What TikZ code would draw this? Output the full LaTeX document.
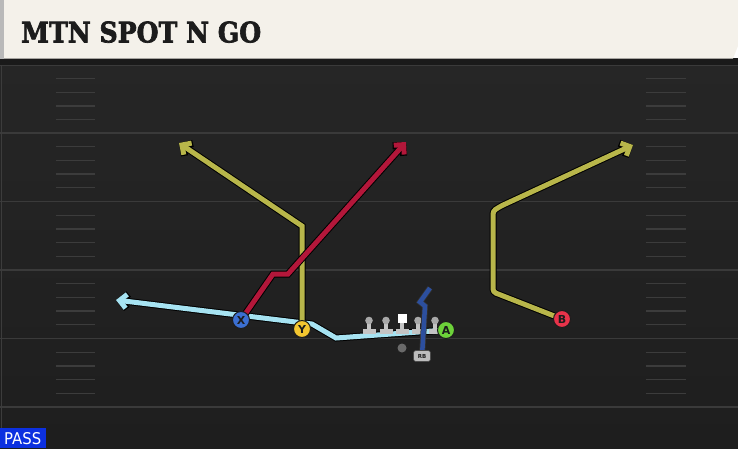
\documentclass[tikz,border=0pt]{standalone}
\usepackage{fontspec}
\usepackage{graphicx}
\usetikzlibrary{arrows.meta}
\newfontfamily\titlefont{DejaVu Serif}[BoldFeatures={FakeBold=2.5}]
\newfontfamily\labfont{DejaVu Sans}
\definecolor{fieldtop}{HTML}{262626}
\definecolor{fieldbot}{HTML}{1E1E1E}
\definecolor{yardc}{HTML}{3A3A3A}
\definecolor{hashc}{HTML}{3C3C3C}
\definecolor{cream}{HTML}{F4F1EA}
\definecolor{hdrshadow}{HTML}{1A1A1A}
\definecolor{routered}{HTML}{B3173A}
\definecolor{routeyel}{HTML}{B8B64A}
\definecolor{routeblue}{HTML}{A6E3F2}
\definecolor{rbblue}{HTML}{2C4F9E}
\definecolor{xblue}{HTML}{3B6FD1}
\definecolor{yyel}{HTML}{F3C630}
\definecolor{agreen}{HTML}{6DD23A}
\definecolor{bred}{HTML}{E8334A}
\definecolor{passblue}{HTML}{0C30E0}
\definecolor{lmgray}{HTML}{C4C4C4}
\definecolor{lmhead}{HTML}{A8A8A8}
\definecolor{qbgray}{HTML}{6A6A6A}
\definecolor{rbgray}{HTML}{BDBDBD}
\definecolor{ink}{HTML}{1C1C1C}
\tikzset{
  yard/.style={draw=yardc, line width=1.6pt},
  hashmark/.style={draw=hashc, line width=1.3pt},
  routeout/.style={draw=black, line width=7pt, line join=miter, -{Straight Barb[length=7pt,width=15pt]}},
  routein/.style={line width=5pt, line join=miter, -{Straight Barb[length=7pt,width=14pt]}},
  player/.style={circle, draw=ink, line width=1pt, minimum size=17pt, inner sep=0pt,
    font=\labfont\bfseries\fontsize{11}{11}\selectfont, text=ink},
}
\begin{document}
\begin{tikzpicture}[x=1pt, y=-1pt]
\useasboundingbox (0,0) rectangle (738,448);
% field
\shade[top color=fieldtop, bottom color=fieldbot] (0,59) rectangle (738,448);
\foreach \yy in {65,133,201.5,270,338.5,407} {
  \draw[yard] (0,\yy) -- (738,\yy);
}
\foreach \b in {65,133,201.5,270,338.5} {
  \foreach \k in {1,2,3,4} {
    \draw[hashmark] (56,\b+13.7*\k) -- (95,\b+13.7*\k);
    \draw[hashmark] (646,\b+13.7*\k) -- (686,\b+13.7*\k);
  }
}
\draw[draw=hashc, line width=1.2pt] (1.5,60) -- (1.5,448);
% header
\fill[hdrshadow] (0,58) rectangle (738,64.5);
\fill[gray!55] (0,0) rectangle (4,59);
\fill[cream] (4,0) -- (738,0) -- (738,46) -- (733,58.5) -- (4,58.5) -- cycle;
\node[anchor=south west, inner sep=0pt, text=ink] (title) at (21,43)
  {\resizebox{240pt}{21pt}{\titlefont\bfseries MTN SPOT N GO}};
% positions
\coordinate (pX) at (241,320);
\coordinate (pY) at (302,329);
\coordinate (pA) at (446,330);
\coordinate (pB) at (562,319);
\coordinate (pRB) at (422,356);
% route bends
\coordinate (x1) at (273,274);
\coordinate (x2) at (288,274);
\coordinate (xe) at (406,142);
\coordinate (y1) at (302,226);
\coordinate (ye) at (179,143);
\coordinate (b1) at (493,292);
\coordinate (b2) at (493,211);
\coordinate (b3) at (501,206);
\coordinate (be) at (633,145);
\coordinate (a1) at (336,338);
\coordinate (a2) at (312,324);
\coordinate (ae) at (116,300);
\coordinate (r1) at (425,306);
\coordinate (r2) at (420,302);
\coordinate (r3) at (430,288);
% routes
\draw[routeout] (pA) -- (a1) -- (a2) -- (ae);
\draw[routein, routeblue] (pA) -- (a1) -- (a2) -- (ae);
\draw[routeout] (pY) -- (y1) -- (ye);
\draw[routein, routeyel] (pY) -- (y1) -- (ye);
\draw[routeout] (pX) -- (x1) -- (x2) -- (xe);
\draw[routein, routered] (pX) -- (x1) -- (x2) -- (xe);
\draw[routeout, rounded corners=3pt] (pB) -- (b1) -- (b2) -- (b3) -- (be);
\draw[routein, routeyel, rounded corners=3pt] (pB) -- (b1) -- (b2) -- (b3) -- (be);
% linemen
\foreach \lx in {369,386,418,435} {
  \fill[lmgray] (\lx-1.8,321) rectangle (\lx+1.8,330);
  \fill[lmhead] (\lx,320.5) circle (3.8);
  \fill[lmgray] (\lx-6.5,328.5) rectangle (\lx+6.5,334);
}
\fill[lmgray] (400.2,321) rectangle (403.8,330);
\fill[lmgray] (395.5,328.5) rectangle (408.5,334);
\fill[white] (397.5,313.5) rectangle (406.5,322.5);
% RB route
\draw[draw=black!80, line width=6pt, line join=miter] (pRB) -- (r1) -- (r2) -- (r3);
\draw[rbblue, line width=4.5pt, line join=miter] (pRB) -- (r1) -- (r2) -- (r3);
% players
\node[circle, fill=qbgray, minimum size=9pt, inner sep=0pt] (QB) at (402,348) {};
\node[rounded corners=2.5pt, fill=rbgray, draw=black!70, line width=0.6pt, minimum width=17pt,
  minimum height=11pt, inner sep=0pt, text=ink,
  font=\labfont\bfseries\fontsize{5.5}{5.5}\selectfont] (RB) at (pRB) {RB};
\node[player, fill=xblue] (X) at (pX) {X};
\node[player, fill=yyel] (Y) at (pY) {Y};
\node[player, fill=agreen] (A) at (pA) {A};
\node[player, fill=bred] (B) at (pB) {B};
% pass tag
\fill[passblue] (0,428) rectangle (46,448);
\node[anchor=south west, inner sep=0pt, text=white] (pass) at (4,445)
  {\resizebox{37pt}{12pt}{\labfont PASS}};
\end{tikzpicture}
\end{document}
